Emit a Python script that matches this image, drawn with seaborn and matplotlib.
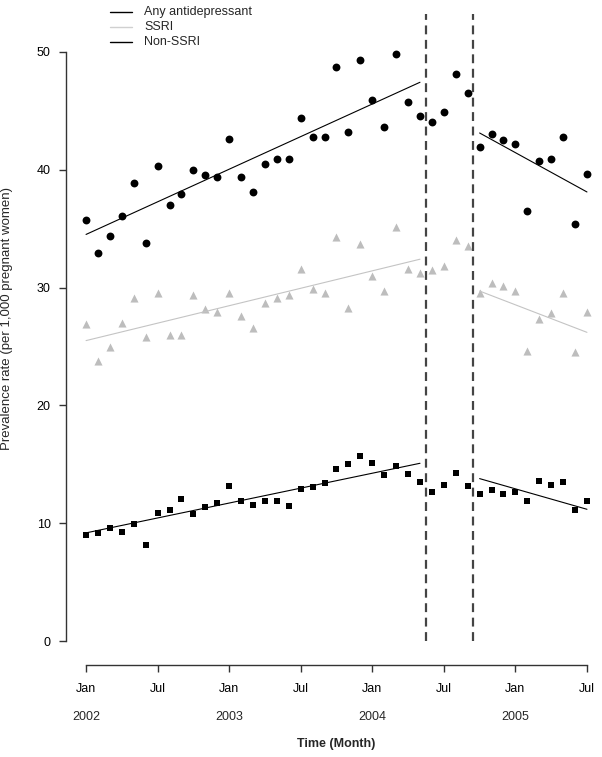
import matplotlib
matplotlib.use("Agg")
import pandas as pd
import matplotlib.pyplot as plt
from matplotlib.lines import Line2D
import seaborn as sns

# monthly prevalence, Jan 2002 .. Jul 2005 (43 months)
months = list(range(43))
any_ad = [35.7, 32.9, 34.4, 36.1, 38.9, 33.8, 40.3, 37.0, 37.9, 40.0,
          39.5, 39.4, 42.6, 39.4, 38.1, 40.5, 40.9, 40.9, 44.4, 42.8,
          42.8, 48.7, 43.2, 49.3, 45.9, 43.6, 49.8, 45.7, 44.5, 44.0,
          44.9, 48.1, 46.5, 41.9, 43.0, 42.5, 42.2, 36.5, 40.7, 40.9,
          42.8, 35.4, 39.6]
ssri = [26.9, 23.8, 25.0, 27.0, 29.1, 25.8, 29.5, 26.0, 26.0, 29.4,
        28.2, 27.9, 29.5, 27.6, 26.6, 28.7, 29.1, 29.4, 31.6, 29.9,
        29.5, 34.3, 28.3, 33.7, 31.0, 29.7, 35.1, 31.6, 31.2, 31.5,
        31.8, 34.0, 33.5, 29.5, 30.4, 30.1, 29.7, 24.6, 27.3, 27.8,
        29.5, 24.5, 27.9]
non_ssri = [9.06, 9.2, 9.6, 9.25, 9.96, 8.15, 10.9, 11.1, 12.1, 10.8,
            11.4, 11.7, 13.2, 11.9, 11.6, 11.9, 11.9, 11.5, 12.9, 13.1,
            13.4, 14.6, 15.0, 15.7, 15.1, 14.1, 14.9, 14.2, 13.5, 12.7,
            13.3, 14.3, 13.2, 12.5, 12.8, 12.5, 12.7, 11.9, 13.6, 13.3,
            13.5, 11.1, 11.9]

# fitted segment lines (start, end)
pre_months = [0, 28]
post_months = [33, 42]
any_pre = [34.5, 47.4]
any_post = [43.1, 38.1]
ssri_pre = [25.5, 32.4]
ssri_post = [29.7, 26.2]
non_pre = [9.2, 15.1]
non_post = [13.8, 11.2]

breaks = [28.5, 32.45]
tick_months = [0, 6, 12, 18, 24, 30, 36, 42]
tick_labels = ["Jan", "Jul", "Jan", "Jul", "Jan", "Jul", "Jan", "Jul"]
year_months = [0, 12, 24, 36]
year_labels = ["2002", "2003", "2004", "2005"]
legend_labels = ["Any antidepressant", "SSRI", "Non-SSRI"]

df = pd.DataFrame({"month": months, "any": any_ad, "ssri": ssri, "non": non_ssri})

sns.set_style("ticks")
plt.rcParams["font.family"] = ["Liberation Sans", "DejaVu Sans"]
plt.rcParams["font.size"] = 9

W, H = 602, 757
fig = plt.figure(figsize=(W / 100, H / 100), dpi=100)
ax = fig.add_axes([66 / W, 92 / H, 541 / W, 637 / H])

gray = "#bdbdbd"
sns.scatterplot(data=df, x="month", y="any", marker="o", color="black",
                s=32, linewidth=0, ax=ax)
sns.scatterplot(data=df, x="month", y="ssri", marker="^", color=gray,
                s=34, linewidth=0, ax=ax)
sns.scatterplot(data=df, x="month", y="non", marker="s", color="black",
                s=25, linewidth=0, ax=ax)

for xs, ys, col in [(pre_months, any_pre, "black"), (post_months, any_post, "black"),
                    (pre_months, ssri_pre, "#c4c4c4"), (post_months, ssri_post, "#c4c4c4"),
                    (pre_months, non_pre, "black"), (post_months, non_post, "black")]:
    sns.lineplot(x=xs, y=ys, color=col, linewidth=0.8, ax=ax)

for b in breaks:
    ax.plot([b, b], [0, 53.2], color="#444444", linewidth=1.6,
            linestyle=(0, (4, 2.5)), clip_on=False)

ax.set_xlim(-1.68, 43.68)
ax.set_ylim(-2, 52)
sns.despine(ax=ax)
ax.spines["left"].set_bounds(0, 50)
ax.spines["bottom"].set_bounds(0, 42)
for s in ["left", "bottom"]:
    ax.spines[s].set_color("#333333")
    ax.spines[s].set_linewidth(1.0)

ax.set_yticks([0, 10, 20, 30, 40, 50])
ax.set_xticks(tick_months)
ax.set_xticklabels(tick_labels)
ax.tick_params(direction="out", length=5, width=1, color="#333333",
               labelsize=9, labelcolor="black")
ax.tick_params(axis="x", pad=8)
ax.tick_params(axis="y", pad=6)

for m, yl in zip(year_months, year_labels):
    ax.text(m, (665 - 717) / 637, yl, transform=ax.get_xaxis_transform(),
            ha="center", va="center", fontsize=9)

ax.set_xlabel("Time (Month)", fontweight="bold", fontsize=9, va="center")
ax.xaxis.set_label_coords((336 - 66) / 541, (665 - 744) / 637)
ax.set_ylabel("Prevalence rate (per 1,000 pregnant women)", fontsize=9.5, va="center")
ax.yaxis.set_label_coords((7 - 66) / 541, (665 - 318) / 637)

# legend drawn in figure pixels
for i, (lab, col) in enumerate(zip(legend_labels, ["black", "#d0d0d0", "black"])):
    yy = 1 - [12, 27, 42][i] / H
    fig.add_artist(Line2D([110 / W, 132 / W], [yy, yy], color=col, linewidth=1.0))
    fig.text(144 / W, yy, lab, ha="left", va="center", fontsize=9)

fig.savefig("out.png", dpi=100)
